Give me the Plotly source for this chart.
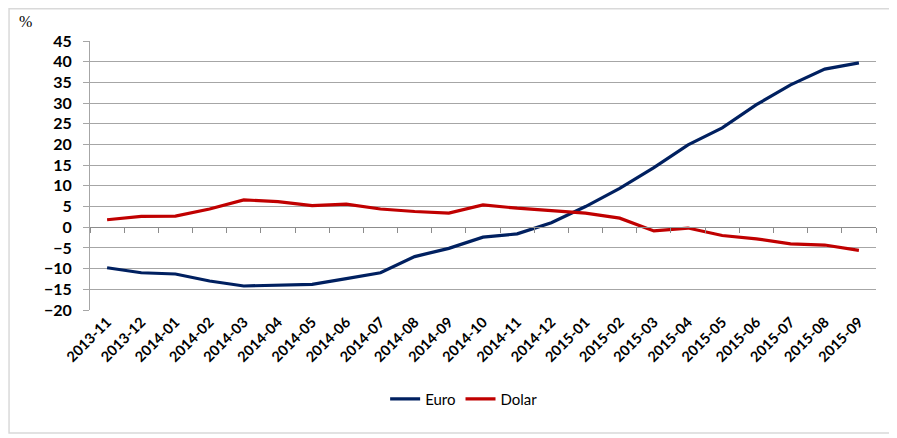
import plotly.graph_objects as go

months = ["2013-11", "2013-12", "2014-01", "2014-02", "2014-03", "2014-04",
          "2014-05", "2014-06", "2014-07", "2014-08", "2014-09", "2014-10",
          "2014-11", "2014-12", "2015-01", "2015-02", "2015-03", "2015-04",
          "2015-05", "2015-06", "2015-07", "2015-08", "2015-09"]

euro = [-9.8, -11.0, -11.3, -13.0, -14.2, -14.0, -13.8, -12.4, -11.0, -7.1,
        -5.1, -2.4, -1.6, 1.1, 5.0, 9.4, 14.4, 19.9, 24.0, 29.6, 34.4, 38.2, 39.7]

dolar = [1.8, 2.6, 2.7, 4.4, 6.6, 6.2, 5.2, 5.6, 4.4, 3.8, 3.4, 5.4, 4.6,
         4.0, 3.4, 2.2, -0.9, -0.2, -2.0, -2.8, -4.0, -4.3, -5.6]

y_min, y_max = -20, 45
font = "Lato, 'Open Sans', sans-serif"

fig = go.Figure()
fig.add_trace(go.Scatter(x=months, y=euro, name="Euro", mode="lines",
                         line=dict(color="#002060", width=3.2)))
fig.add_trace(go.Scatter(x=months, y=dolar, name="Dolar", mode="lines",
                         line=dict(color="#C00000", width=3.2)))
# invisible trace so the zero-line axis carries the category ticks
fig.add_trace(go.Scatter(x=months, y=[None] * len(months), xaxis="x2",
                         showlegend=False, hoverinfo="skip"))

# page body has an 8px margin, so the figure is a bit smaller than the window
fig.update_layout(
    width=889, height=430,
    margin=dict(l=82, r=21, t=33, b=128, autoexpand=False),
    paper_bgcolor="white", plot_bgcolor="white",
    font=dict(family=font, color="black"),
    showlegend=True,
    legend=dict(orientation="h", x=0.476, xanchor="center", y=-0.27,
                yanchor="top", font=dict(size=15, color="black"),
                itemwidth=30, traceorder="normal"),
    xaxis=dict(type="category", range=[-0.5, len(months) - 0.5],
               showgrid=False, showline=False, ticks="", tickangle=-45,
               automargin=False,
               tickfont=dict(size=14.5, family=font, weight="bold")),
    xaxis2=dict(type="category", overlaying="x", matches="x",
                anchor="free", position=(0 - y_min) / (y_max - y_min),
                side="bottom", showticklabels=False, showgrid=False,
                showline=True, linecolor="#8c8c8c", linewidth=1,
                ticks="outside", ticklen=5, tickcolor="#8c8c8c",
                tickson="boundaries", automargin=False),
    yaxis=dict(range=[y_min, y_max], dtick=5, showgrid=True,
               gridcolor="#a6a6a6", gridwidth=1, zeroline=False,
               showline=True, linecolor="#a6a6a6", ticks="outside",
               ticklen=6, tickcolor="#a6a6a6", automargin=False,
               ticklabelstandoff=8,
               tickfont=dict(size=16, family=font, weight="bold")),
    annotations=[dict(text="%", xref="paper", yref="paper", x=-0.093, y=1.071,
                      xanchor="left", yanchor="middle", showarrow=False,
                      font=dict(size=16, family="Liberation Serif, serif"))],
    shapes=[dict(type="rect", xref="paper", yref="paper",
                 x0=-0.103, x1=1.0216, y0=-0.457, y1=1.12,
                 line=dict(color="#d9d9d9", width=1.5))],
)

fig.write_html("out.html")
